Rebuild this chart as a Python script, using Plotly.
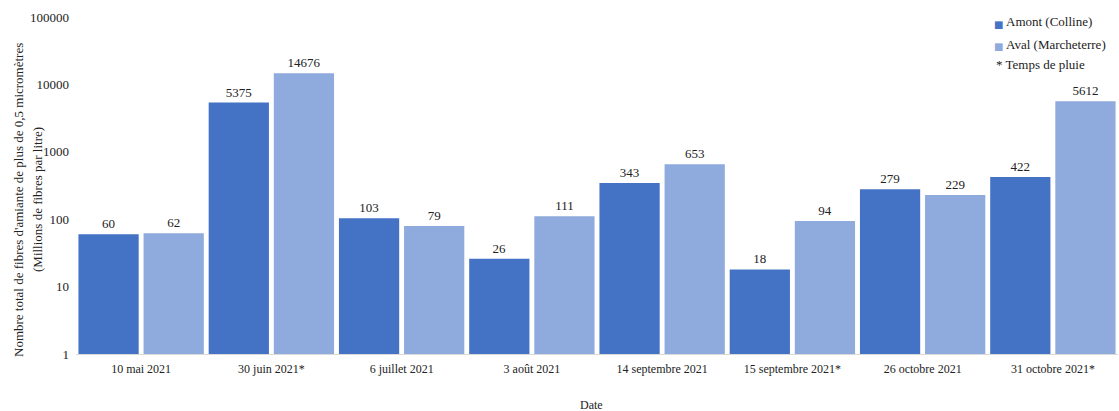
import plotly.graph_objects as go

dates = ["10 mai 2021", "30 juin 2021*", "6 juillet 2021", "3 août 2021",
         "14 septembre 2021", "15 septembre 2021*", "26 octobre 2021", "31 octobre 2021*"]
amont = [60, 5375, 103, 26, 343, 18, 279, 422]
aval = [62, 14676, 79, 111, 653, 94, 229, 5612]
tick_vals = [1, 10, 100, 1000, 10000, 100000]
tick_text = ["1", "10", "100", "1000", "10000", "100000"]
series_names = ["Amont (Colline)", "Aval (Marcheterre)"]
series_colors = ["#4472C4", "#8FAADC"]

FF = "Liberation Serif"
TXT = "#222222"

W, H = 1119, 411
ML, MR, MT, MB = 76, 1, 17, 57
PW, PH = W - ML - MR, H - MT - MB


def px(x):
    return (x - ML) / PW


def py(y):
    return (H - MB - y) / PH


fig = go.Figure()
for name, vals, col in zip(series_names, [amont, aval], series_colors):
    fig.add_trace(go.Bar(
        x=dates, y=vals, name=name, marker_color=col, marker_line_width=0,
        text=[str(v) for v in vals], textposition="outside",
        textfont=dict(family=FF, size=13, color=TXT),
        cliponaxis=False, showlegend=False,
    ))

annotations = []
# y-axis title (two lines)
annotations.append(dict(text="Nombre total de fibres d'amiante de plus de 0,5 micromètres",
                        x=px(18), y=py(200), xref="paper", yref="paper", textangle=-90,
                        showarrow=False, xanchor="center", yanchor="middle",
                        font=dict(family=FF, size=13, color=TXT)))
annotations.append(dict(text="(Millions de fibres par litre)",
                        x=px(37), y=py(200), xref="paper", yref="paper", textangle=-90,
                        showarrow=False, xanchor="center", yanchor="middle",
                        font=dict(family=FF, size=13, color=TXT)))
# x-axis title
annotations.append(dict(text="Date", x=px(591), y=py(405), xref="paper", yref="paper",
                        showarrow=False, xanchor="center", yanchor="middle",
                        font=dict(family=FF, size=12, color=TXT)))
# legend
for i, (name, col) in enumerate(zip(series_names, series_colors)):
    yy = [22, 45][i]
    annotations.append(dict(text="■", x=px(998.5), y=py(yy + 2), xref="paper", yref="paper",
                            showarrow=False, xanchor="center", yanchor="middle",
                            font=dict(family="DejaVu Sans", size=10, color=col)))
    annotations.append(dict(text=name, x=px(1004), y=py(yy), xref="paper", yref="paper",
                            showarrow=False, xanchor="left", yanchor="middle",
                            font=dict(family=FF, size=13, color=TXT)))
annotations.append(dict(text="* Temps de pluie", x=px(994), y=py(64), xref="paper", yref="paper",
                        showarrow=False, xanchor="left", yanchor="middle",
                        font=dict(family=FF, size=13, color=TXT)))

fig.update_layout(
    width=W, height=H,
    margin=dict(l=ML, r=MR, t=MT, b=MB, autoexpand=False),
    paper_bgcolor="white", plot_bgcolor="white",
    font=dict(family=FF, size=12, color=TXT),
    barmode="group", bargap=0.0, bargroupgap=0.075,
    showlegend=False,
    xaxis=dict(showgrid=False, showline=True, linecolor="#d9d9d9", linewidth=1,
               ticks="", tickfont=dict(family=FF, size=12, color=TXT),
               ticklabelstandoff=4, automargin=False),
    yaxis=dict(type="log", range=[0, 5], showgrid=False, showline=False,
               tickvals=tick_vals, ticktext=tick_text, ticks="",
               tickfont=dict(family=FF, size=13, color=TXT),
               ticklabelstandoff=6, automargin=False),
    annotations=annotations,
)

fig.write_html("out.html", config={"displayModeBar": False},
               post_script="document.body.style.margin='0';")
